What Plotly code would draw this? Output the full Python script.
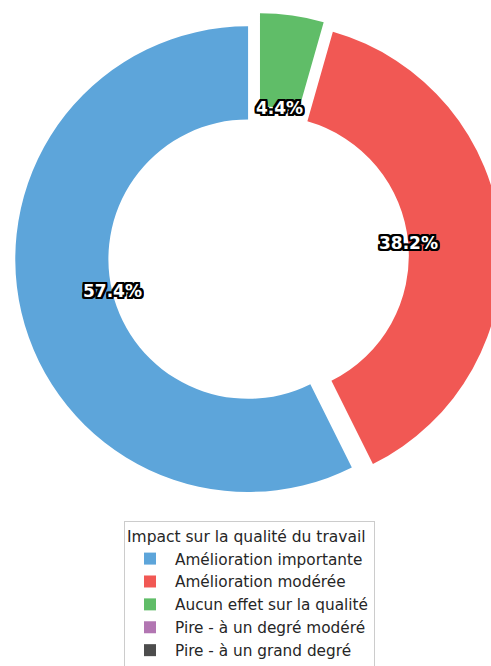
import numpy as np
import plotly.graph_objects as go

# Data
labels = ["Amélioration importante", "Amélioration modérée", "Aucun effet sur la qualité",
          "Pire - à un degré modéré", "Pire - à un grand degré"]
counts = [39, 26, 3, 0, 0]
colors = ["#5DA5DA", "#F15854", "#60BD68", "#B276B2", "#4D4D4D"]
legend_title = "Impact sur la qualité du travail"

# Geometry (pixels)
W, H = 505, 680
ML, MR, MT, MB = 15, 3, 0, 0
PULL = 0.046
HOLE = 0.6
DOM_Y = [0.264, 0.981]

pw, ph = W - ML - MR, H - MT - MB
box_w = pw
box_h = ph * (DOM_Y[1] - DOM_Y[0])
R = min(box_w, box_h) / 2 / (1 + PULL)
cx = ML + pw / 2
cy = MT + ph * (1 - DOM_Y[0]) - box_h / 2

vals = np.array(counts, dtype=float)
frac = vals / vals.sum()

# first wedge starts at 12 o'clock and runs counter-clockwise
fig = go.Figure(go.Pie(
    labels=labels, values=counts, sort=False, direction="counterclockwise",
    rotation=-360 * frac[0],
    hole=HOLE, pull=[PULL] * len(counts),
    marker=dict(colors=colors, line=dict(width=0)),
    textinfo="none", hoverinfo="label+percent",
    domain=dict(x=[0, 1], y=DOM_Y),
))

# percentage labels at the inner edge of each wedge
start = np.concatenate([[0], np.cumsum(frac)[:-1]])
outline = ", ".join(f"{dx}px {dy}px 0 #000" for dx in (-2, -1, 0, 1, 2) for dy in (-2, -1, 0, 1, 2))
for f, s in zip(frac, start):
    if f <= 0:
        continue
    ang = np.deg2rad(90 + 360 * (s + f / 2))
    d = (PULL + HOLE) * R
    x = cx + d * np.cos(ang)
    y = cy - d * np.sin(ang)
    fig.add_annotation(
        x=(x - ML) / pw, y=1 - (y - MT) / ph, xref="paper", yref="paper",
        text=f"{f * 100:.1f}%", showarrow=False, xanchor="center", yanchor="middle",
        font=dict(family="DejaVu Sans", size=17, color="white", weight="bold", shadow=outline),
    )

fig.update_layout(
    width=W, height=H,
    margin=dict(l=ML, r=MR, t=MT, b=MB),
    paper_bgcolor="white", plot_bgcolor="white",
    font=dict(family="DejaVu Sans", size=15.3, color="#262626"),
    legend=dict(
        title=dict(text=legend_title, font=dict(size=15.5)),
        x=(124 - ML) / pw, xanchor="left",
        y=1 - (521 - MT) / ph, yanchor="top",
        itemwidth=40,
        bordercolor="#cccccc", borderwidth=1, bgcolor="white",
    ),
)

fig.write_html("out.html", config={"displayModeBar": False},
               post_script="document.body.style.margin='0';document.body.style.overflow='hidden';")
